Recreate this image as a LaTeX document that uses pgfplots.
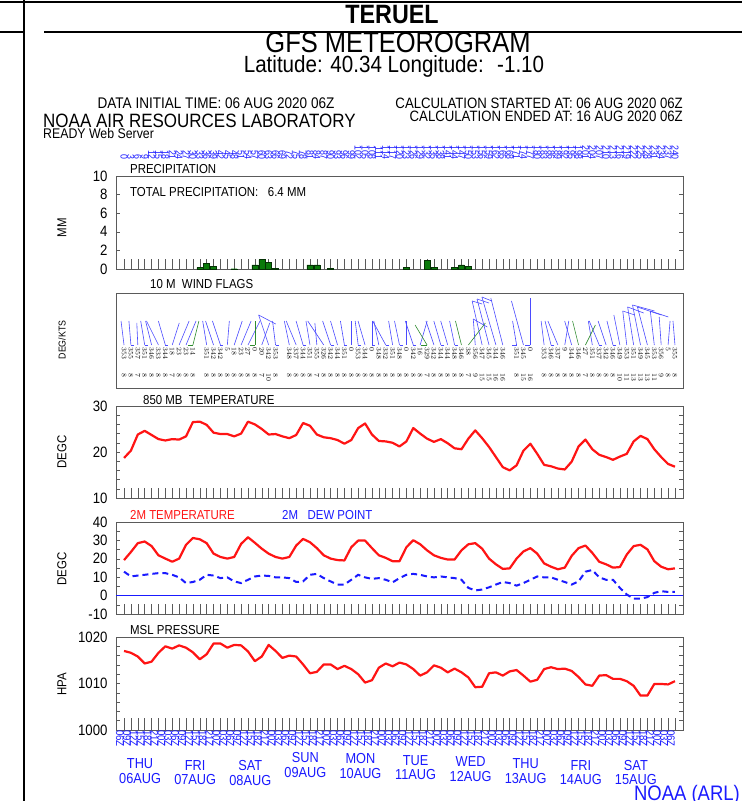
\documentclass[border=0pt]{standalone}
\usepackage{fontspec}
\setmainfont{Liberation Sans}[FakeStretch=0.88]
\usepackage{pgfplots}
\usepackage{pgfplotstable}
\pgfplotsset{compat=1.18}
\newcommand\fs[1]{\fontsize{#1bp}{#1bp}\selectfont}
\definecolor{frame}{HTML}{5A5A5A}
\definecolor{tred}{HTML}{FF1414}
\definecolor{nblue}{HTML}{1A1AFF}
\definecolor{pgreen}{HTML}{0A7A0A}
\definecolor{wblue}{HTML}{4B4BFF}
\definecolor{wgreen}{HTML}{2E8B2E}

\pgfplotstableread{
i t850 t2m td pres
0 18.7 19.3 13.0 1017.0
1 20.3 23.7 10.4 1016.6
2 23.8 28.5 10.9 1015.8
3 24.6 29.4 11.3 1014.3
4 23.7 26.9 11.8 1014.7
5 22.8 21.9 12.2 1016.6
6 22.5 20.1 12.2 1018.0
7 22.8 18.4 11.3 1017.5
8 22.7 20.1 9.9 1018.2
9 23.4 27.6 6.8 1017.7
10 26.5 31.3 7.4 1016.7
11 26.6 30.6 8.6 1015.2
12 25.9 28.5 11.3 1016.3
13 24.2 22.8 10.9 1018.6
14 23.9 21.0 9.5 1018.6
15 23.9 20.1 9.9 1017.7
16 23.4 21.0 7.7 1018.3
17 24.0 28.1 6.8 1018.2
18 26.6 31.7 8.6 1016.9
19 26.0 28.7 10.4 1014.8
20 25.0 25.5 10.9 1015.8
21 23.8 22.8 10.7 1018.3
22 23.9 21.0 9.9 1017.0
23 23.4 20.1 9.9 1015.5
24 23.0 21.0 9.5 1016.0
25 23.7 27.2 7.4 1015.8
26 26.3 30.8 7.7 1014.1
27 25.7 29.0 11.3 1012.2
28 23.8 25.8 11.8 1012.5
29 23.2 21.9 9.5 1014.1
30 23.0 20.1 7.7 1014.1
31 22.6 19.3 6.0 1013.1
32 21.8 19.1 6.0 1013.8
33 22.6 26.3 8.6 1013.1
34 25.2 29.9 11.3 1012.0
35 26.2 29.9 9.9 1010.2
36 23.8 25.8 9.1 1010.7
37 22.4 21.9 9.5 1013.4
38 22.3 20.5 8.6 1014.3
39 22.0 18.7 7.2 1013.7
40 21.2 18.7 9.5 1014.5
41 22.3 26.3 11.3 1014.1
42 25.2 30.1 11.8 1013.1
43 24.0 27.9 11.3 1011.7
44 22.9 24.6 10.4 1012.4
45 22.2 21.9 9.9 1013.9
46 22.8 20.5 10.4 1013.4
47 21.9 19.6 9.9 1012.4
48 20.8 19.6 9.5 1013.2
49 20.6 24.6 8.6 1012.4
50 22.9 27.9 4.2 1011.3
51 24.7 28.5 2.8 1009.2
52 23.0 25.5 3.3 1009.3
53 21.1 20.1 4.5 1012.2
54 18.9 17.0 6.0 1012.4
55 16.7 14.5 7.4 1011.7
56 16.0 14.8 6.8 1012.6
57 17.1 20.1 5.4 1012.9
58 20.3 24.0 6.8 1011.7
59 21.8 25.8 8.6 1010.4
60 19.6 22.8 10.4 1010.8
61 17.2 17.5 9.9 1013.1
62 16.9 15.7 9.9 1013.5
63 16.4 14.3 8.6 1013.1
64 16.2 15.2 7.4 1013.2
65 17.9 21.6 6.0 1012.7
66 21.2 25.8 7.7 1011.4
67 22.7 27.2 13.0 1009.8
68 20.6 23.2 13.9 1009.5
69 19.4 18.4 9.9 1011.7
70 18.9 17.0 8.6 1011.8
71 18.3 15.2 8.6 1011.0
72 19.0 15.5 4.2 1011.0
73 19.6 22.3 0.6 1010.5
74 22.3 26.9 -1.7 1009.5
75 23.5 27.6 -1.7 1007.4
76 22.8 25.1 -0.8 1007.4
77 20.6 18.7 1.5 1009.9
78 18.9 15.7 2.4 1009.9
79 17.4 14.3 2.0 1009.8
80 16.8 14.8 2.0 1010.5
}\met

\pgfplotstableread{
h p
33 0.15
36 0.6
39 0.25
48 0.03
57 0.45
60 1.0
63 0.75
66 0.1
81 0.45
84 0.45
90 0.1
123 0.15
132 0.9
135 0.15
144 0.2
147 0.45
150 0.25
}\precip

\pgfplotstableread{
i dx L f bx by
0 -3 24 0 0 0
1 -2 24 3 0 0
2 -1 22 0 0 0
3 -4 24 3 0 0
4 -6 24 0 0 0
5 -12 24 0 0 0
6 -7 24 3 0 0
7 7 22 0 0 0
8 10 24 0 0 0
9 10 24 0 0 0
12 -4 24 0 0 0
13 -8 24 0 0 0
14 -8 24 3 0 0
15 2 24 0 0 0
16 8 24 0 0 0
17 10 24 0 0 0
18 12 24 0 0 0
20 8 22 0 0 0
21 -10 30 0 17 -9
22 -3 24 3 0 0
24 -5 24 0 0 0
25 -10 24 0 0 0
26 -7 24 3 0 0
27 -4 24 0 0 0
28 -2 22 0 0 0
29 -16 24 0 0 0
30 -8 24 3 0 0
31 -7 24 0 0 0
32 -4 24 3 0 0
33 0 24 0 0 0
34 -3 24 3 0 0
35 -7 24 0 0 0
36 0 24 3 0 0
37 -5 24 0 0 0
38 -13 24 3 0 0
39 -4 24 0 0 0
40 -5 24 3 0 0
41 0 24 0 0 0
42 -8 24 3 0 0
43 7 24 0 0 0
45 -8 24 0 0 0
46 -7 24 3 0 0
47 -7 24 0 0 0
48 -5 24 3 0 0
51 -2 26 0 14 -8
52 -10 44 0 10 -3
53 -12 46 0 12 -4
54 -14 48 0 10 -4
55 -12 47 0 0 0
57 -4 24 -5 0 0
58 -12 44 0 0 0
59 0 47 -5 0 0
61 -3 24 0 0 0
62 -6 24 3 0 0
63 -10 24 0 0 0
64 4 24 0 0 0
65 -7 24 0 0 0
68 -4 24 0 0 0
69 -10 24 3 0 0
70 -8 24 0 0 0
71 -6 24 3 0 0
72 -6 30 0 0 0
73 -4 34 0 12 -4
74 -6 38 0 16 -6
75 -8 40 0 22 -6
76 -10 38 0 24 -8
77 -4 34 0 18 -6
78 -2 28 0 0 0
79 2 24 0 0 0
80 -2 24 0 0 0
}\windb

\pgfplotstableread{
i dx L f bx by
10 6 24 -5 0 0
19 0 24 -5 0 0
44 -12 20 -6 0 0
49 -6 24 0 0 0
50 17 22 0 0 0
66 -6 24 0 0 0
67 10 20 0 0 0
}\windg

\pgfplotsset{
  panel/.style={
    scale only axis, width=567bp, height=93bp,
    xmin=-3.5, xmax=243.5,
    axis line style={frame, line width=0.7bp},
    xtick={0,3,...,240}, xtick pos=left,
    tick align=inside,
    xtick style={/pgfplots/major tick length=10bp, frame, line width=0.5bp},
    ytick style={/pgfplots/major tick length=4bp, /pgfplots/minor tick length=4bp, frame, line width=0.5bp},
    ytick pos=both, yticklabel pos=left,
    yticklabel style={font=\fs{15}, xshift=-5bp},
    /pgf/number format/assume math mode=true,
    /pgf/number format/1000 sep={},
    scaled y ticks=false,
    clip=false,
  },
  windlab/.style={draw=none, mark=none,
    nodes near coords={\pgfmathprintnumber[fixed, precision=0]{\pgfplotspointmeta}},
    every node near coord/.style={font=\fs{7}, rotate=-90, anchor=west, inner sep=0pt, text=black}},
}

\begin{document}
\begin{tikzpicture}
\path[use as bounding box] (0,0) rectangle (742bp,801bp);
% frame lines
\draw[line width=2.5bp] (0,799bp) -- (742bp,799bp);
\draw[line width=1.8bp] (0,769bp) -- (24bp,769bp);
\draw[line width=1.8bp] (44bp,769bp) -- (742bp,769bp);
\draw[line width=1.5bp] (24bp,801bp) -- (24bp,0);
% header
\node[font=\bfseries\fs{26.5}, anchor=base, inner sep=0pt] at (392bp,777bp) {TERUEL};
\node[font=\fs{29}, anchor=base, inner sep=0pt] at (398bp,748bp) {GFS METEOROGRAM};
\node[font=\fs{23.4}, anchor=base, inner sep=0pt] at (394bp,728bp) {Latitude: 40.34 Longitude: \ -1.10};
\node[font=\fs{15.4}, inner sep=0pt] at (216bp,698bp) {DATA INITIAL TIME: 06 AUG 2020 06Z};
\node[font=\fs{15}, anchor=east, inner sep=0pt] at (683bp,698bp) {CALCULATION STARTED AT: 06 AUG 2020 06Z};
\node[font=\fs{15}, anchor=east, inner sep=0pt] at (683bp,685bp) {CALCULATION ENDED AT: 16 AUG 2020 06Z};
\node[font=\fs{19.3}, anchor=west, inner sep=0pt] at (43bp,680bp) {NOAA AIR RESOURCES LABORATORY};
\node[font=\fs{14}, anchor=west, inner sep=0pt] at (43bp,667bp) {READY Web Server};

% ---------- precipitation ----------
\begin{axis}[panel, at={(116bp,532bp)}, anchor=south west,
  ymin=0, ymax=10, ytick={0,2,...,10},
  xticklabel pos=right,
  xticklabel={\pgfmathtruncatemacro\hh{\tick}\hh},
  xticklabel style={font=\fs{10}, text=nblue, yshift=16bp, rotate=-90, anchor=east, inner sep=0pt}]
\addplot[ybar, bar width=2.6, fill=pgreen, draw=black!60!pgreen, line width=0.4bp] table[x=h, y=p] {\precip};
\end{axis}
\node[font=\fs{13}, anchor=base west, inner sep=0pt] at (130bp,627bp) {PRECIPITATION};
\node[font=\fs{13}, anchor=west, inner sep=0pt] at (130bp,609bp) {TOTAL PRECIPITATION: \ \ 6.4 MM};
\node[font=\fs{13}, rotate=90] at (62bp,573bp) {MM};

% ---------- wind flags ----------
\begin{axis}[scale only axis, width=567bp, height=95bp, at={(116bp,413bp)}, anchor=south west,
  xmin=-3.5, xmax=243.5, ymin=0, ymax=95, xtick=\empty, ytick=\empty,
  axis line style={frame, line width=0.7bp}, clip=false]
\addplot[wblue, line width=0.6bp, quiver={u=\thisrow{dx}/2.2955, v=\thisrow{L}}] table[x expr=3*\thisrow{i}, y expr=43] {\windb};
\addplot[wblue, line width=0.6bp, quiver={u=\thisrow{f}/2.2955, v=0}] table[x expr=3*\thisrow{i}, y expr=43] {\windb};
\addplot[wblue, line width=0.6bp, quiver={u=\thisrow{bx}/2.2955, v=\thisrow{by}}] table[x expr=3*\thisrow{i}+\thisrow{dx}/2.2955, y expr=43+\thisrow{L}] {\windb};
\addplot[wgreen, line width=0.6bp, quiver={u=\thisrow{dx}/2.2955, v=\thisrow{L}}] table[x expr=3*\thisrow{i}, y expr=43] {\windg};
\addplot[wgreen, line width=0.6bp, quiver={u=\thisrow{f}/2.2955, v=0}] table[x expr=3*\thisrow{i}, y expr=43] {\windg};
\addplot[windlab, point meta={mod(360+atan2(\thisrow{dx},\thisrow{L}),360)}] table[x expr=3*\thisrow{i}, y expr=41] {\windb};
\addplot[windlab, point meta={mod(360+atan2(\thisrow{dx},\thisrow{L}),360)}] table[x expr=3*\thisrow{i}, y expr=41] {\windg};
\addplot[windlab, point meta={\thisrow{L}/3}] table[x expr=3*\thisrow{i}, y expr=15] {\windb};
\addplot[windlab, point meta={\thisrow{L}/3}] table[x expr=3*\thisrow{i}, y expr=15] {\windg};
\end{axis}
\node[font=\fs{13}, anchor=base west, inner sep=0pt] at (150bp,512bp) {10 M \ WIND FLAGS};
\node[font=\fs{10}, rotate=90] at (62bp,461bp) {DEG/KTS};

% ---------- 850 mb temperature ----------
\begin{axis}[panel, at={(116bp,303bp)}, anchor=south west, height=92bp,
  ymin=10, ymax=30, ytick={10,20,30}, minor y tick num=4, xticklabels={}]
\addplot[tred, line width=2.2bp, line join=round] table[x expr=3*\thisrow{i}, y=t850] {\met};
\end{axis}
\node[font=\fs{13}, anchor=base west, inner sep=0pt] at (143bp,396bp) {850 MB \ TEMPERATURE};
\node[font=\fs{13}, rotate=90] at (62bp,349bp) {DEGC};

% ---------- 2m temperature / dew point ----------
\begin{axis}[panel, at={(116bp,187bp)}, anchor=south west, height=92bp,
  ymin=-10, ymax=40, ytick={-10,0,...,40}, minor y tick num=1, xticklabels={}]
\addplot[nblue, line width=0.6bp] coordinates {(-3.5,0) (243.5,0)};
\addplot[tred, line width=2.2bp, line join=round] table[x expr=3*\thisrow{i}, y=t2m] {\met};
\addplot[nblue, line width=2bp, dash pattern=on 6bp off 4bp] table[x expr=3*\thisrow{i}, y=td] {\met};
\end{axis}
\node[font=\fs{13}, anchor=base west, inner sep=0pt, text=tred] at (130bp,281bp) {2M TEMPERATURE};
\node[font=\fs{13}, anchor=base west, inner sep=0pt, text=nblue] at (282bp,281bp) {2M \ \ DEW POINT};
\node[font=\fs{13}, rotate=90] at (62bp,232bp) {DEGC};

% ---------- MSL pressure ----------
\begin{axis}[panel, at={(116bp,71bp)}, anchor=south west, height=93bp,
  ymin=1000, ymax=1020, ytick={1000,1010,1020}, minor y tick num=4,
  xtick style={/pgfplots/major tick length=12bp, frame, line width=0.5bp},
  xticklabel={\pgfmathtruncatemacro\hh{mod(\tick+6,24)}\ifnum\hh<10 0\fi\hh Z},
  xticklabel style={font=\fs{11}, text=nblue, rotate=-90, anchor=west, inner sep=0pt, yshift=-4bp}]
\addplot[tred, line width=2.2bp, line join=round] table[x expr=3*\thisrow{i}, y=pres] {\met};
\end{axis}
\node[font=\fs{13}, anchor=base west, inner sep=0pt] at (130bp,166bp) {MSL PRESSURE};
\node[font=\fs{13}, rotate=90] at (62bp,117bp) {HPA};

% day labels
\foreach \x/\o/\t in {140.1/41/{THU\\06AUG}, 195.2/42.5/{FRI\\07AUG}, 250.3/43/{SAT\\08AUG},
  305.4/35/{SUN\\09AUG}, 360.5/36/{MON\\10AUG}, 415.6/37.5/{TUE\\11AUG}, 470.6/39/{WED\\12AUG},
  525.7/41/{THU\\13AUG}, 580.8/42.5/{FRI\\14AUG}, 635.9/42.5/{SAT\\15AUG}}
  \node[font=\fs{14.5}, text=nblue, align=center, inner sep=0pt, anchor=center] at (\x bp, 71bp-\o bp) {\t};
\node[font=\fs{21}, text=nblue, anchor=east, inner sep=0pt] at (740bp,6bp) {NOAA (ARL)};
\end{tikzpicture}
\end{document}
